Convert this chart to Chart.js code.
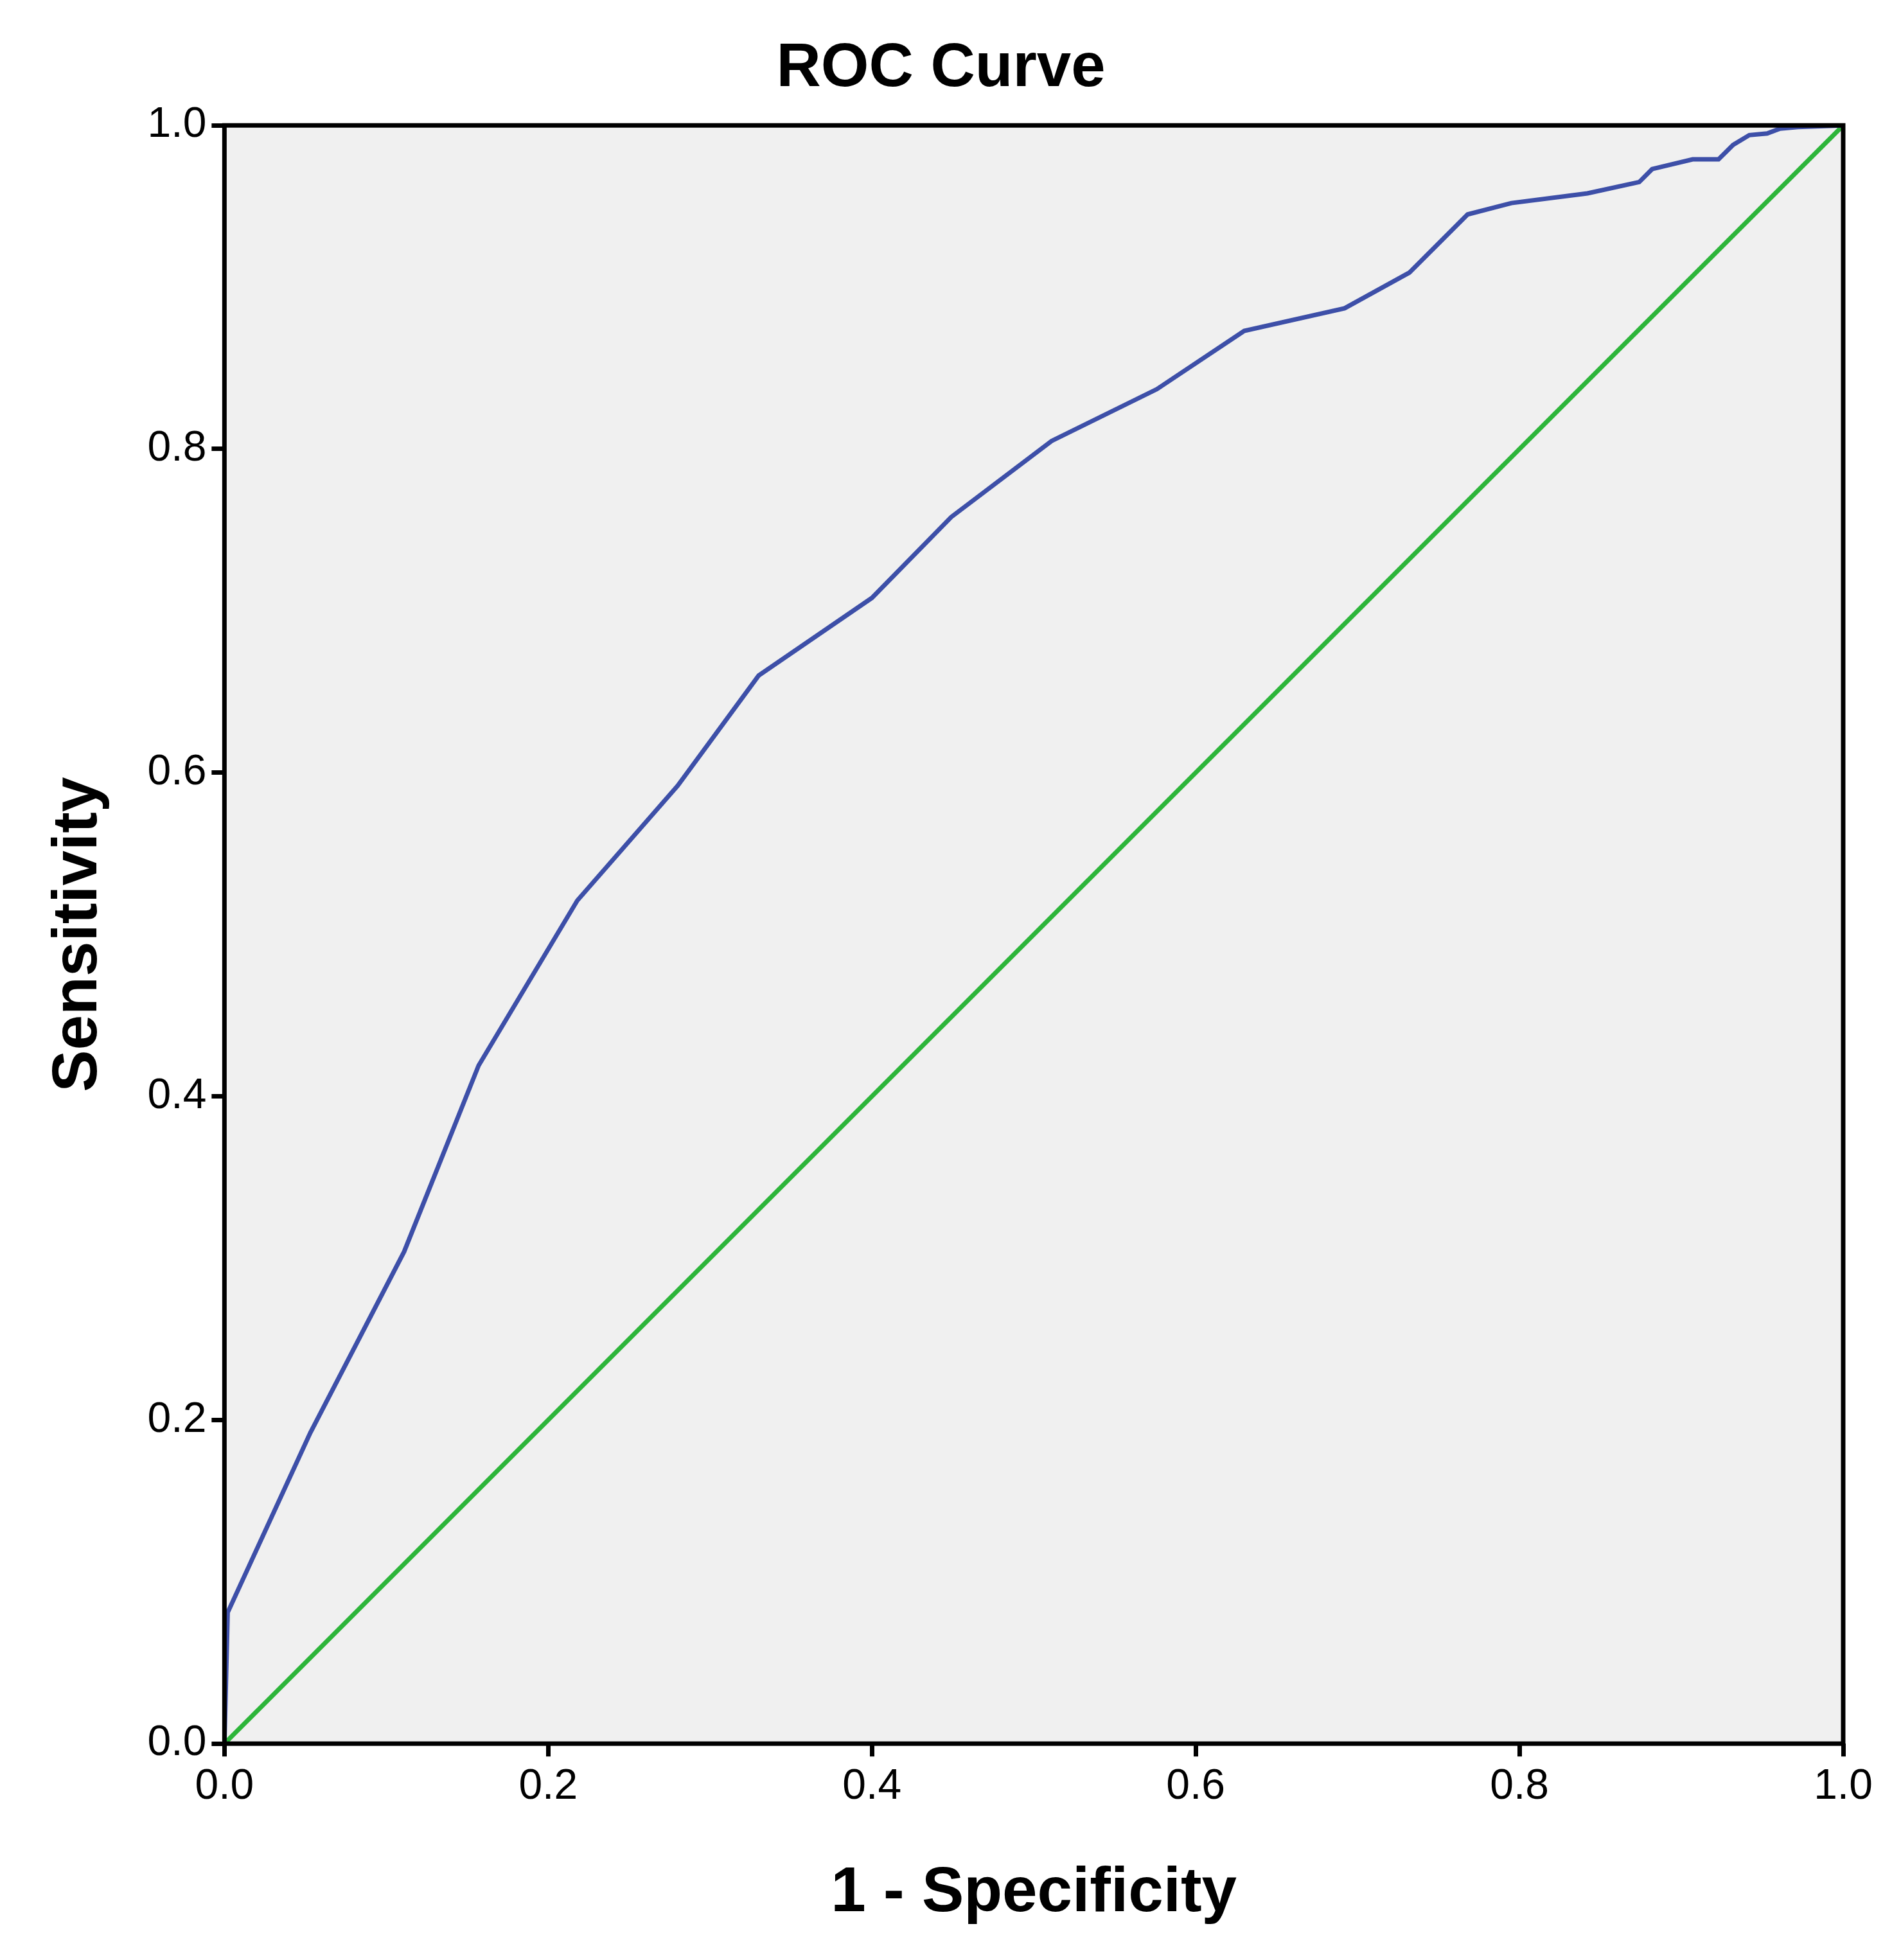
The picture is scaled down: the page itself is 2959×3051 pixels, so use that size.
<!DOCTYPE html>
<html>
<head>
<meta charset="utf-8">
<script src="https://cdn.jsdelivr.net/npm/chart.js@4"></script>
<style>
  html, body { margin: 0; padding: 0; background: #fff; }
  #wrap { width: 2959px; height: 3051px; }
</style>
</head>
<body>
<div id="wrap"><canvas id="roc"></canvas></div>
<script>
// ROC curve points
const fpr = [0, 0.002, 0.053, 0.111, 0.157, 0.218, 0.28, 0.33, 0.4, 0.449, 0.511, 0.576, 0.63, 0.692, 0.732, 0.768, 0.795, 0.842, 0.874, 0.882, 0.907, 0.923, 0.932, 0.942, 0.953, 0.961, 0.972, 1];
const tpr = [0, 0.081, 0.192, 0.304, 0.419, 0.521, 0.592, 0.66, 0.708, 0.758, 0.805, 0.837, 0.873, 0.887, 0.909, 0.945, 0.952, 0.958, 0.965, 0.973, 0.979, 0.979, 0.988, 0.994, 0.995, 0.998, 0.999, 1];
const refX = [0, 1];
const refY = [0, 1];
const tickValues = [0, 0.2, 0.4, 0.6, 0.8, 1.0];

const plotBg = {
  id: 'plotBg',
  beforeDraw(chart) {
    const a = chart.chartArea, c = chart.ctx;
    c.save();
    c.fillStyle = '#f0f0f0';
    c.fillRect(a.left, a.top, a.right - a.left, a.bottom - a.top);
    c.restore();
  },
  afterDraw(chart) {
    const a = chart.chartArea, c = chart.ctx;
    c.save();
    c.strokeStyle = '#000';
    c.lineWidth = 7;
    c.strokeRect(a.left, a.top, a.right - a.left, a.bottom - a.top);
    c.restore();
  }
};

function axis(title, pos) {
  return {
    type: 'linear', position: pos, min: 0, max: 1,
    afterBuildTicks: s => { s.ticks = tickValues.map(v => ({ value: v })); },
    ticks: {
      color: '#000', padding: 8,
      font: { family: 'Liberation Sans, Arial', size: 66 },
      callback: v => v.toFixed(1)
    },
    grid: { drawOnChartArea: false, color: '#000', lineWidth: 7, tickLength: 20 },
    border: { display: false },
    title: {
      display: true, text: title, color: '#000',
      font: { family: 'Liberation Sans, Arial', size: 98, weight: 'bold' },
      padding: pos === 'bottom' ? { top: 60 } : { bottom: 40 }
    }
  };
}

new Chart(document.getElementById('roc'), {
  type: 'scatter',
  data: {
    datasets: [
      {
        data: fpr.map((x, i) => ({ x: x, y: tpr[i] })),
        showLine: true, borderColor: '#3d4fa8', borderWidth: 7,
        pointRadius: 0, tension: 0
      },
      {
        data: refX.map((x, i) => ({ x: x, y: refY[i] })),
        showLine: true, borderColor: '#2db53a', borderWidth: 7,
        pointRadius: 0
      }
    ]
  },
  options: {
    responsive: true, maintainAspectRatio: false, animation: false,
    layout: { padding: { left: 60, right: 90, top: 10, bottom: 40 } },
    plugins: {
      legend: { display: false },
      tooltip: { enabled: false },
      title: {
        display: true, text: 'ROC Curve', color: '#000',
        font: { family: 'Liberation Sans, Arial', size: 96, weight: 'bold' },
        padding: { top: 40, bottom: 30 }
      }
    },
    scales: {
      x: axis('1 - Specificity', 'bottom'),
      y: axis('Sensitivity', 'left')
    }
  },
  plugins: [plotBg]
});
</script>
</body>
</html>
